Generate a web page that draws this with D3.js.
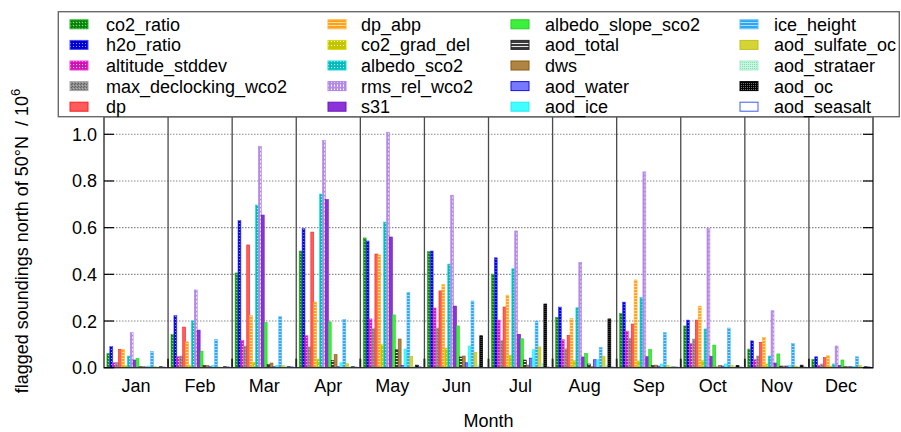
<!DOCTYPE html>
<html>
<head>
<meta charset="utf-8">
<script src="https://cdn.jsdelivr.net/npm/d3@7"></script>
<style>
  body { margin: 0; background: #fff; }
  text { font-family: "Liberation Sans", Arial, sans-serif; font-size: 18px; fill: #000; }
</style>
</head>
<body>
<div id="chart"></div>
<script>
// Months on the x axis
var months = ["Jan", "Feb", "Mar", "Apr", "May", "Jun", "Jul", "Aug", "Sep", "Oct", "Nov", "Dec"];

// Series names (legend order)
var seriesNames = ["co2_ratio", "h2o_ratio", "altitude_stddev", "max_declocking_wco2", "dp",
  "dp_abp", "co2_grad_del", "albedo_sco2", "rms_rel_wco2", "s31",
  "albedo_slope_sco2", "aod_total", "dws", "aod_water", "aod_ice",
  "ice_height", "aod_sulfate_oc", "aod_strataer", "aod_oc", "aod_seasalt"];

// Flagged soundings / 10^6, one value per month
var co2_ratio           = [0.061, 0.143, 0.406, 0.500, 0.556, 0.497, 0.401, 0.216, 0.233, 0.179, 0.080, 0.036];
var h2o_ratio           = [0.091, 0.223, 0.630, 0.596, 0.543, 0.500, 0.471, 0.260, 0.281, 0.204, 0.115, 0.047];
var altitude_stddev     = [0.021, 0.047, 0.116, 0.137, 0.209, 0.256, 0.204, 0.120, 0.157, 0.104, 0.035, 0.010];
var max_declocking_wco2 = [0.023, 0.050, 0.093, 0.089, 0.167, 0.170, 0.116, 0.081, 0.126, 0.123, 0.050, 0.016];
var dp                  = [0.079, 0.174, 0.526, 0.581, 0.487, 0.329, 0.260, 0.139, 0.187, 0.204, 0.109, 0.043];
var dp_abp              = [0.079, 0.111, 0.223, 0.281, 0.483, 0.356, 0.311, 0.210, 0.376, 0.264, 0.129, 0.051];
var co2_grad_del        = [0.009, 0.011, 0.023, 0.037, 0.099, 0.084, 0.053, 0.030, 0.029, 0.030, 0.016, 0.007];
var albedo_sco2         = [0.050, 0.201, 0.697, 0.744, 0.624, 0.444, 0.424, 0.257, 0.300, 0.166, 0.050, 0.016];
var rms_rel_wco2        = [0.150, 0.333, 0.947, 0.973, 1.009, 0.739, 0.586, 0.451, 0.839, 0.596, 0.244, 0.093];
var s31                 = [0.033, 0.161, 0.654, 0.720, 0.560, 0.264, 0.143, 0.046, 0.047, 0.049, 0.020, 0.010];
var albedo_slope_sco2   = [0.039, 0.071, 0.193, 0.196, 0.226, 0.179, 0.124, 0.061, 0.079, 0.097, 0.059, 0.033];
var aod_total           = [0.004, 0.009, 0.013, 0.030, 0.077, 0.046, 0.033, 0.016, 0.009, 0.003, 0.007, 0.004];
var dws                 = [0.004, 0.009, 0.020, 0.056, 0.123, 0.050, 0.011, 0.004, 0.011, 0.010, 0.007, 0.004];
var aod_water           = [0.003, 0.004, 0.004, 0.004, 0.009, 0.021, 0.041, 0.034, 0.007, 0.007, 0.007, 0.004];
var aod_ice             = [0.007, 0.009, 0.010, 0.021, 0.080, 0.093, 0.077, 0.034, 0.016, 0.016, 0.010, 0.006];
var ice_height          = [0.069, 0.121, 0.220, 0.207, 0.323, 0.286, 0.200, 0.087, 0.150, 0.170, 0.104, 0.047];
var aod_sulfate_oc      = [0.004, 0.003, 0.009, 0.017, 0.049, 0.066, 0.089, 0.049, 0.009, 0.009, 0.007, 0.009];
var aod_strataer        = [0.003, 0.002, 0.007, 0.004, 0.006, 0.011, 0.017, 0.010, 0.007, 0.006, 0.004, 0.004];
var aod_oc              = [0.004, 0.004, 0.004, 0.004, 0.011, 0.137, 0.273, 0.209, 0.003, 0.010, 0.011, 0.004];
var aod_seasalt         = [0.003, 0.004, 0.004, 0.003, 0.004, 0.002, 0.003, 0.003, 0.003, 0.003, 0.003, 0.004];

var seriesValues = [co2_ratio, h2o_ratio, altitude_stddev, max_declocking_wco2, dp,
  dp_abp, co2_grad_del, albedo_sco2, rms_rel_wco2, s31,
  albedo_slope_sco2, aod_total, dws, aod_water, aod_ice,
  ice_height, aod_sulfate_oc, aod_strataer, aod_oc, aod_seasalt];

var yTicks = [0, 0.2, 0.4, 0.6, 0.8, 1.0];

// Set up sizes
var svgWidth = 901, svgHeight = 432;
var plot = { left: 104, right: 873, top: 116.7, bottom: 367.7 };

var svg = d3.select("#chart").append("svg")
  .attr("width", svgWidth)
  .attr("height", svgHeight);

svg.append("rect").attr("width", svgWidth).attr("height", svgHeight).attr("fill", "#fff");

// Patterns for the hatched series
var defs = svg.append("defs");
function makePattern(id, w, h, bg, draw) {
  var p = defs.append("pattern").attr("id", id)
    .attr("patternUnits", "userSpaceOnUse")
    .attr("width", w).attr("height", h);
  p.append("rect").attr("width", w).attr("height", h).attr("fill", bg);
  if (draw) draw(p);
}
function dots(color, x, y, s) {
  return function(p) { p.append("rect").attr("x", x).attr("y", y).attr("width", s).attr("height", s).attr("fill", color); };
}
function hlines(color, y, t) {
  return function(p) { p.append("rect").attr("x", 0).attr("y", y).attr("width", 10).attr("height", t).attr("fill", color); };
}
function diag(color) {
  return function(p) { p.append("path").attr("d", "M0,3 L3,0 M-1,1 L1,-1 M2,4 L4,2").attr("stroke", color).attr("stroke-width", 0.8); };
}

makePattern("p_co2", 3, 3, "#0b940b", function(p) { diag("#005a00")(p); dots("#bff0bf", 1, 1, 0.9)(p); });
makePattern("p_h2o", 3, 3, "#0000e6", function(p) { diag("#000090")(p); dots("#c8c8ff", 1, 1, 0.9)(p); });
makePattern("p_alt", 3, 3, "#d010b4", dots("#ffd0f4", 1, 1, 1.1));
makePattern("p_maxdec", 3, 3, "#8c8c8c", function(p) { diag("#555")(p); dots("#e0e0e0", 1, 1, 0.8)(p); });
makePattern("p_dpabp", 10, 3, "#ffa21a", hlines("#ffdca0", 1, 1));
makePattern("p_co2grad", 3, 4, "#c4c400", dots("#ffffff", 1, 1, 1));
makePattern("p_albsco2", 3, 3, "#00bcbc", dots("#d0ffff", 1, 1, 1.1));
makePattern("p_rms", 3, 4, "#b48ae8", function(p) { p.append("rect").attr("x", 1).attr("y", 0.5).attr("width", 1).attr("height", 2.2).attr("fill", "#fff"); });
makePattern("p_aodtotal", 10, 3, "#3a3a3a", hlines("#e8e8e8", 1, 1));
makePattern("p_ice", 10, 3, "#2fa6f2", hlines("#a8dcff", 1, 1));
makePattern("p_strat", 2, 2, "#c6f6e0", dots("#86dcb4", 0, 0, 1));
makePattern("p_oc", 2, 2, "#000", dots("#e0e0e0", 1, 1, 0.7));

// Style per series (same order as seriesNames)
var seriesStyle = [
  { fill: "url(#p_co2)",      stroke: "#2cb82c" },
  { fill: "url(#p_h2o)",      stroke: "#4a4aff" },
  { fill: "url(#p_alt)",      stroke: "#f040d8" },
  { fill: "url(#p_maxdec)",   stroke: "#a8a8a8" },
  { fill: "#ff5c5c",          stroke: "#ff2020" },
  { fill: "url(#p_dpabp)",    stroke: "#ffb23a" },
  { fill: "url(#p_co2grad)",  stroke: "#d8d800" },
  { fill: "url(#p_albsco2)",  stroke: "#20d8d8" },
  { fill: "url(#p_rms)",      stroke: "#b084e6" },
  { fill: "#8a34d8",          stroke: "#6a14c4" },
  { fill: "#3cef3c",          stroke: "#1ed21e" },
  { fill: "url(#p_aodtotal)", stroke: "#222" },
  { fill: "#b08442",          stroke: "#8c5a10" },
  { fill: "#7878ff",          stroke: "#1414e0" },
  { fill: "#40ffff",          stroke: "#28e8f4" },
  { fill: "url(#p_ice)",      stroke: "#5cbcff" },
  { fill: "#d4d436",          stroke: "#c0c020" },
  { fill: "url(#p_strat)",    stroke: "#a4ecca" },
  { fill: "url(#p_oc)",       stroke: "#000" },
  { fill: "#ffffff",          stroke: "#3a5aff" }
];

// Scales
var xMonth = d3.scaleBand().domain(months).range([plot.left, plot.right]).padding(0);
var xSeries = d3.scaleBand().domain(seriesNames).range([0, xMonth.bandwidth()])
  .paddingInner(0).paddingOuter(1);
var y = d3.scaleLinear().domain([0, 1.0754]).range([plot.bottom, plot.top]);

// Grid lines
svg.append("g").selectAll("line")
  .data(yTicks.filter(function(d) { return d > 0; }))
  .enter().append("line")
  .attr("x1", plot.left).attr("x2", plot.right)
  .attr("y1", function(d) { return y(d); }).attr("y2", function(d) { return y(d); })
  .attr("stroke", "#8a8a8a").attr("stroke-width", 1.1).attr("stroke-dasharray", "1.5,1.5");

// Month separators
var bounds = months.slice(1).map(function(m) { return xMonth(m); });
svg.append("g").selectAll("line")
  .data(bounds)
  .enter().append("line")
  .attr("x1", function(d) { return d; }).attr("x2", function(d) { return d; })
  .attr("y1", plot.top).attr("y2", plot.bottom)
  .attr("stroke", "#4a4a4a").attr("stroke-width", 1.3);

// Bars
var monthGroups = svg.append("g").selectAll("g")
  .data(months)
  .enter().append("g")
  .attr("transform", function(m) { return "translate(" + xMonth(m) + ",0)"; });

monthGroups.selectAll("rect")
  .data(function(m, mi) {
    return seriesNames.map(function(s, si) { return { name: s, si: si, value: seriesValues[si][mi] }; });
  })
  .enter().append("rect")
  .attr("x", function(d) { return xSeries(d.name); })
  .attr("width", xSeries.bandwidth())
  .attr("y", function(d) { return y(d.value); })
  .attr("height", function(d) { return y(0) - y(d.value); })
  .attr("fill", function(d) { return seriesStyle[d.si].fill; })
  .attr("stroke", function(d) { return seriesStyle[d.si].stroke; })
  .attr("stroke-width", 0.6);

// Frame
svg.append("rect")
  .attr("x", plot.left).attr("y", plot.top)
  .attr("width", plot.right - plot.left).attr("height", plot.bottom - plot.top)
  .attr("fill", "none").attr("stroke", "#333").attr("stroke-width", 1.4);

// Y ticks (left and mirrored right) and labels
var yTickG = svg.append("g");
yTicks.forEach(function(t) {
  yTickG.append("line").attr("x1", plot.left).attr("x2", plot.left + 10)
    .attr("y1", y(t)).attr("y2", y(t)).attr("stroke", "#000").attr("stroke-width", 1.2);
  yTickG.append("line").attr("x1", plot.right - 10).attr("x2", plot.right)
    .attr("y1", y(t)).attr("y2", y(t)).attr("stroke", "#000").attr("stroke-width", 1.2);
  yTickG.append("text").attr("x", 97).attr("y", y(t) + 6.5)
    .attr("text-anchor", "end").text(d3.format(".1f")(t));
});

// X ticks at month boundaries
bounds.forEach(function(b) {
  svg.append("line").attr("x1", b).attr("x2", b)
    .attr("y1", plot.bottom - 9).attr("y2", plot.bottom)
    .attr("stroke", "#222").attr("stroke-width", 1.8);
});

// Month labels
svg.append("g").selectAll("text")
  .data(months)
  .enter().append("text")
  .attr("x", function(m) { return xMonth(m) + xMonth.bandwidth() / 2; })
  .attr("y", 392)
  .attr("text-anchor", "middle")
  .text(function(m) { return m; });

// Axis titles
svg.append("text")
  .attr("x", (plot.left + plot.right) / 2).attr("y", 427)
  .attr("text-anchor", "middle")
  .text("Month");

var yLabel = svg.append("text")
  .attr("transform", "translate(28,241) rotate(-90)")
  .attr("text-anchor", "middle")
  .style("white-space", "pre");
yLabel.append("tspan").text("flagged soundings north of 50\u00b0N  / 10");
yLabel.append("tspan").attr("dy", -8).style("font-size", "13px").text("6");

// Legend
var legend = svg.append("g");
legend.append("rect")
  .attr("x", 58.3).attr("y", 11.7).attr("width", 841).attr("height", 105)
  .attr("fill", "#fff").attr("stroke", "#6a6a6a").attr("stroke-width", 1.4);

var swatchX = [70, 328, 511, 740];
var labelX = [106, 361, 545, 774];
seriesNames.forEach(function(name, i) {
  var col = Math.floor(i / 5), row = i % 5;
  var cy = 24.3 + row * 20.6;
  legend.append("rect")
    .attr("x", swatchX[col]).attr("y", cy - 4.5)
    .attr("width", 18).attr("height", 9)
    .attr("fill", seriesStyle[i].fill)
    .attr("stroke", seriesStyle[i].stroke).attr("stroke-width", 1);
  legend.append("text")
    .attr("x", labelX[col]).attr("y", cy + 6.4)
    .text(name);
});
</script>
</body>
</html>
